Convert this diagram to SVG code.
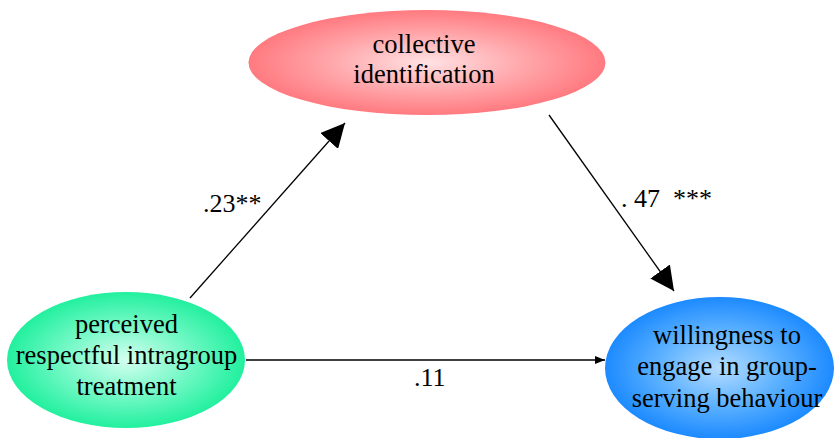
<svg xmlns="http://www.w3.org/2000/svg" width="835" height="438" viewBox="0 0 835 438">
  <style>
    .lbl { font-family: "Liberation Serif", "Times New Roman", serif; font-size: 26.5px; fill: #000; text-anchor: middle; }
    .coef { font-family: "Liberation Serif", "Times New Roman", serif; font-size: 26px; fill: #000; }
    .edge { stroke: #000; stroke-width: 1.3; fill: none; }
  </style>
  <defs>
    <radialGradient id="gPink" cx="50%" cy="50%" r="50%">
      <stop offset="0" stop-color="#ffe2e4"/>
      <stop offset="0.55" stop-color="#ffa6aa"/>
      <stop offset="1" stop-color="#ff7a80"/>
    </radialGradient>
    <radialGradient id="gGreen" cx="50%" cy="50%" r="50%">
      <stop offset="0" stop-color="#d4fff0"/>
      <stop offset="0.55" stop-color="#70f8c4"/>
      <stop offset="1" stop-color="#22f09e"/>
    </radialGradient>
    <radialGradient id="gBlue" cx="50%" cy="50%" r="50%">
      <stop offset="0" stop-color="#b4dcff"/>
      <stop offset="0.55" stop-color="#5ab0ff"/>
      <stop offset="1" stop-color="#1c8aff"/>
    </radialGradient>
    <marker id="bigHead" viewBox="0 0 10 10" refX="10" refY="5" markerWidth="24" markerHeight="24" markerUnits="userSpaceOnUse" orient="auto">
      <path d="M0,0 L10,5 L0,10 z" fill="#000"/>
    </marker>
    <marker id="smallHead" viewBox="0 0 10 10" refX="10" refY="5" markerWidth="10" markerHeight="10" markerUnits="userSpaceOnUse" orient="auto">
      <path d="M0,1 L10,5 L0,9 z" fill="#000"/>
    </marker>
  </defs>

  <g id="connectors">
    <line class="edge" x1="190" y1="298" x2="345" y2="123" marker-end="url(#bigHead)"/>
    <line class="edge" x1="549" y1="115" x2="674" y2="291" marker-end="url(#bigHead)"/>
    <line class="edge" x1="246" y1="360" x2="605" y2="360" marker-end="url(#smallHead)"/>
    <text class="coef" x="203" y="212">.23**</text>
    <text class="coef" x="621" y="207" xml:space="preserve">. 47  ***</text>
    <text class="coef" x="414" y="386">.11</text>
  </g>

  <g id="node-collective">
    <ellipse cx="427" cy="62.5" rx="178.5" ry="52.5" fill="url(#gPink)"/>
    <text class="lbl" x="424" y="53">collective</text>
    <text class="lbl" x="424" y="83">identification</text>
  </g>

  <g id="node-treatment">
    <ellipse cx="126" cy="360" rx="119" ry="68" fill="url(#gGreen)"/>
    <text class="lbl" x="126.5" y="333">perceived</text>
    <text class="lbl" x="126.5" y="364">respectful intragroup</text>
    <text class="lbl" x="126.5" y="395">treatment</text>
  </g>

  <g id="node-willingness">
    <ellipse cx="719.5" cy="368" rx="114.5" ry="71" fill="url(#gBlue)"/>
    <text class="lbl" x="727" y="344">willingness to</text>
    <text class="lbl" x="727" y="375">engage in group-</text>
    <text class="lbl" x="727" y="407">serving behaviour</text>
  </g>
</svg>
